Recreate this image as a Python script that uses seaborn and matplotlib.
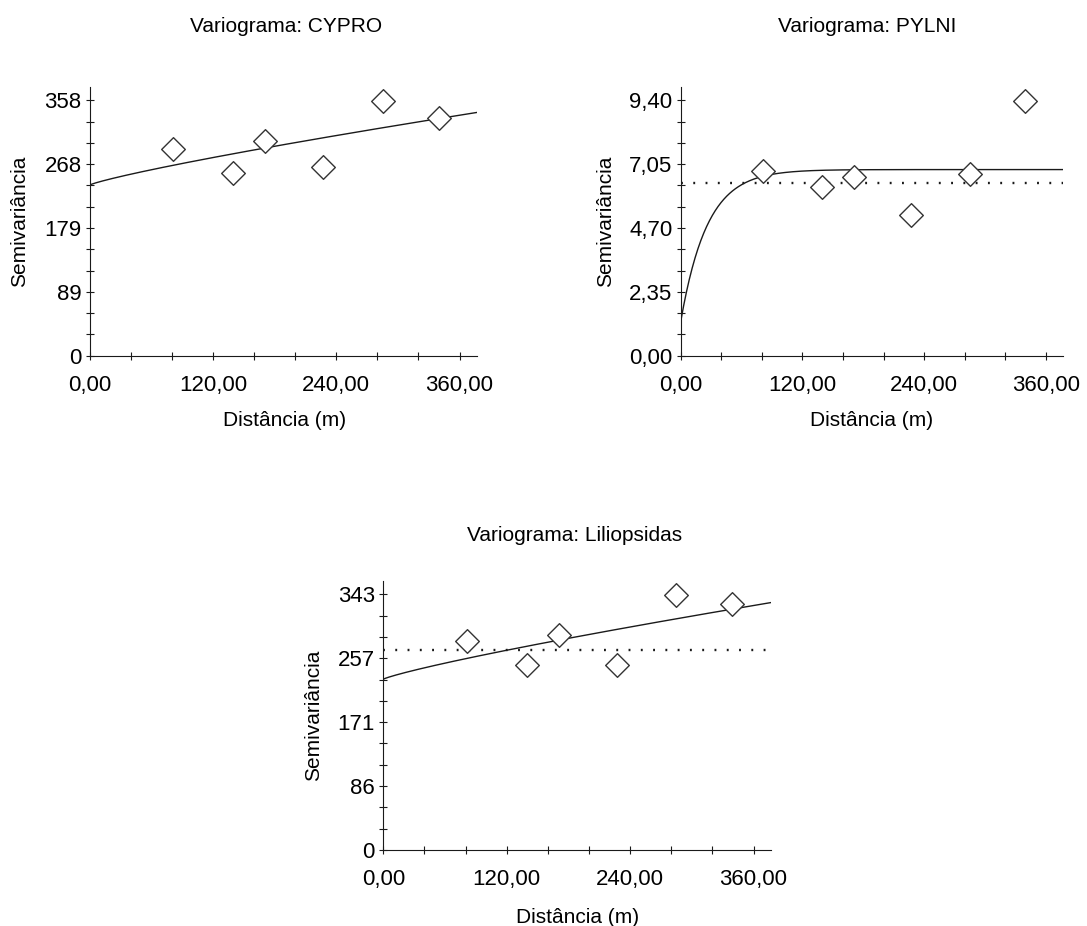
import numpy as np
import pandas as pd
import matplotlib
matplotlib.use("Agg")
import matplotlib.pyplot as plt
import seaborn as sns
from matplotlib.ticker import FixedLocator, MultipleLocator

sns.set_theme(style="white")
plt.rcParams["font.family"] = ["Liberation Sans", "DejaVu Sans"]

# Experimental semivariogram: lag distances (m), shared by the three variables
lags = [81.0, 139.5, 170.5, 227.0, 285.0, 339.5]

cypro_gamma = [290.4, 256.2, 301.0, 263.8, 357.0, 333.2]
pylni_gamma = [6.80, 6.21, 6.56, 5.16, 6.70, 9.37]
lilio_gamma = [281.0, 247.9, 289.0, 247.9, 342.6, 330.5]

# Axis tick labels
cypro_yticks = ["0", "89", "179", "268", "358"]
pylni_yticks = ["0,00", "2,35", "4,70", "7,05", "9,40"]
lilio_yticks = ["0", "86", "171", "257", "343"]
x_tick_values = [0, 120, 240, 360]
x_tick_labels = ["0,00", "120,00", "240,00", "360,00"]

# Fitted variogram models
cypro_model = {"kind": "power", "nugget": 239.4, "scale": 0.656, "exponent": 0.85}
pylni_model = {"kind": "exponential", "nugget": 1.25, "sill": 6.85, "range": 26.0}
lilio_model = {"kind": "power", "nugget": 229.1, "scale": 0.664, "exponent": 0.85}

# Sample variance (dotted reference line)
pylni_var = 6.36
lilio_var = 268.0

X_MAX = 377.0
W, H = 1087, 926
INK = "#1a1a1a"


def model_curve(m, h):
    if m["kind"] == "power":
        return m["nugget"] + m["scale"] * h ** m["exponent"]
    return m["nugget"] + (m["sill"] - m["nugget"]) * (1.0 - np.exp(-h / m["range"]))


fig = plt.figure(figsize=(W / 100, H / 100), dpi=100)
fig.patch.set_facecolor("white")


def make_axes(left, right, top, bottom):
    return fig.add_axes([left / W, 1 - bottom / H, (right - left) / W, (bottom - top) / H])


def draw_panel(ax, gamma, ylabels, model, variance):
    ytop = float(ylabels[-1].replace(",", "."))
    h = np.linspace(0, X_MAX, 400)
    curve = pd.DataFrame({"h": h, "g": model_curve(model, h)})
    sns.lineplot(data=curve, x="h", y="g", ax=ax, color=INK, lw=1.0, zorder=2)
    if variance is not None:
        ax.axhline(variance, 0, 1, color=INK, lw=1.7, ls=(0, (0.8, 4.4)),
                   dash_capstyle="butt", zorder=1)
    pts = pd.DataFrame({"lag": lags, "gamma": gamma})
    sns.scatterplot(data=pts, x="lag", y="gamma", ax=ax, marker="D", s=145,
                    facecolor="white", edgecolor="#333333", linewidth=1.0, zorder=3)

    ax.set_xlim(0, X_MAX)
    ax.set_ylim(0, ytop * 1.052)
    ax.xaxis.set_major_locator(FixedLocator(x_tick_values))
    ax.set_xticklabels(x_tick_labels)
    ax.xaxis.set_minor_locator(MultipleLocator(40))
    ax.yaxis.set_major_locator(FixedLocator(np.linspace(0, ytop, 5)))
    ax.set_yticklabels(ylabels)
    ax.yaxis.set_minor_locator(MultipleLocator(ytop / 12))

    for side in ("top", "right"):
        ax.spines[side].set_visible(False)
    for side in ("left", "bottom"):
        ax.spines[side].set_color(INK)
        ax.spines[side].set_linewidth(0.8)
    ax.tick_params(which="both", direction="inout", length=6, width=0.8,
                   color=INK, labelsize=16, labelcolor="black")
    ax.tick_params(axis="y", which="both", left=True, pad=3)
    ax.tick_params(axis="x", which="both", bottom=True, pad=11)
    ax.set_xlabel("")
    ax.set_ylabel("")
    ax.set_facecolor("white")
    ax.patch.set_alpha(0)
    for sp in ax.spines.values():
        sp.set_zorder(4)


def label_panel(title, title_xy, xlabel_xy, ylabel_xy):
    fig.text(title_xy[0] / W, 1 - title_xy[1] / H, title, ha="center",
             va="baseline", fontsize=15, color="black")
    fig.text(xlabel_xy[0] / W, 1 - xlabel_xy[1] / H, "Distância (m)", ha="center",
             va="baseline", fontsize=15, color="black")
    fig.text(ylabel_xy[0] / W, 1 - ylabel_xy[1] / H, "Semivariância", ha="center",
             va="center", rotation=90, fontsize=15, color="black")


ax1 = make_axes(90, 477, 87, 355.7)
draw_panel(ax1, cypro_gamma, cypro_yticks, cypro_model, None)
label_panel("Variograma: CYPRO", (285.8, 32.3), (284.2, 425.7), (20, 221))

ax2 = make_axes(680.7, 1063.3, 87, 355.7)
draw_panel(ax2, pylni_gamma, pylni_yticks, pylni_model, pylni_var)
label_panel("Variograma: PYLNI", (867.5, 32.3), (872, 425.7), (605.5, 221))

ax3 = make_axes(383.3, 771, 581, 850)
draw_panel(ax3, lilio_gamma, lilio_yticks, lilio_model, lilio_var)
label_panel("Variograma: Liliopsidas", (575, 541), (577.5, 923.3), (314, 715))

fig.savefig("out.png", dpi=100, facecolor="white")
